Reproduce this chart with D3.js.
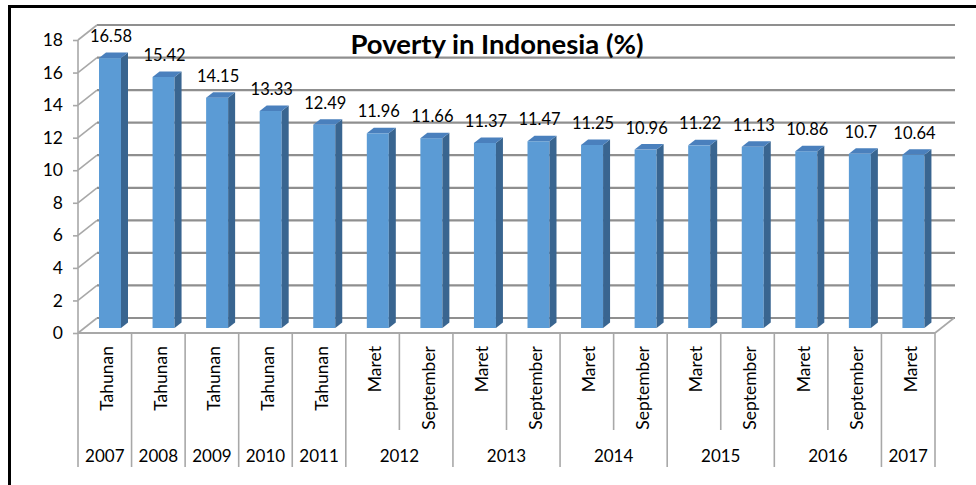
<!DOCTYPE html>
<html>
<head>
<meta charset="utf-8">
<script src="https://cdn.jsdelivr.net/npm/d3@7/dist/d3.min.js"></script>
<style>
  html, body { margin: 0; padding: 0; background: #fff; }
  svg { display: block; }
  text { font-family: Lato, "Liberation Sans", sans-serif; fill: #000; }
</style>
</head>
<body>
<svg id="chart" width="976" height="485"></svg>
<script>
// ---- data ----
const periods = ["Tahunan","Tahunan","Tahunan","Tahunan","Tahunan",
                 "Maret","September","Maret","September","Maret","September",
                 "Maret","September","Maret","September","Maret"];
const years   = ["2007","2008","2009","2010","2011",
                 "2012","2012","2013","2013","2014","2014",
                 "2015","2015","2016","2016","2017"];
const values  = [16.58,15.42,14.15,13.33,12.49,11.96,11.66,11.37,11.47,11.25,10.96,11.22,11.13,10.86,10.7,10.64];
const yTicks  = [0,2,4,6,8,10,12,14,16,18];
const title   = "Poverty in Indonesia (%)";

// ---- layout ----
const svg = d3.select("#chart");
const x0 = 78, x1 = 935;           // front floor edge
const yBase = 333, yTop = 40;      // front plane 0 and 18
const depth = {dx: 19, dy: -15};   // back-wall offset
const idx = d3.range(values.length);

const x = d3.scaleBand().domain(idx).range([x0, x1]).paddingInner(0).paddingOuter(0);
const y = d3.scaleLinear().domain([0, 18]).range([yBase, yTop]);

const gridColor = "#8f8f8f";
const axisColor = "#a8a8a8";

// outer border
svg.append("rect").attr("x", 9.5).attr("y", 6.5).attr("width", 1000).attr("height", 500)
  .attr("fill", "none").attr("stroke", "#000").attr("stroke-width", 3);

// back wall gridlines + left wall diagonals
const grid = svg.append("g");
yTicks.forEach(t => {
  const yf = y(t), yb = y(t) + depth.dy;
  grid.append("line").attr("x1", x0 + depth.dx).attr("x2", x1 + depth.dx + 1)
    .attr("y1", yb).attr("y2", yb).attr("stroke", gridColor).attr("stroke-width", 2.2);
  grid.append("line").attr("x1", x0).attr("y1", yf).attr("x2", x0 + depth.dx).attr("y2", yb)
    .attr("stroke", axisColor).attr("stroke-width", 1.6);
});
// floor right diagonal
grid.append("line").attr("x1", x1).attr("y1", yBase).attr("x2", x1 + depth.dx).attr("y2", yBase + depth.dy)
  .attr("stroke", axisColor).attr("stroke-width", 1.6);

// y axis (front)
const yAxis = d3.axisLeft(y).tickValues(yTicks).tickSize(5).tickPadding(10).tickFormat(d3.format("d"));
const gy = svg.append("g").attr("transform", `translate(${x0},0)`).call(yAxis);
gy.select(".domain").remove();
gy.selectAll(".tick line").attr("stroke", axisColor).attr("stroke-width", 1.6);
gy.selectAll(".tick text").attr("font-size", 17.5).attr("font-family", "Lato, sans-serif").attr("fill", "#000");
svg.append("line").attr("x1", x0).attr("x2", x0).attr("y1", y(18)).attr("y2", 467)
  .attr("stroke", axisColor).attr("stroke-width", 1.6);
// front floor edge
svg.append("line").attr("x1", x0).attr("x2", x1).attr("y1", yBase).attr("y2", yBase)
  .attr("stroke", axisColor).attr("stroke-width", 2);

// bars
const bw = 22, faceOff = 21, lift = 5, side = {dx: 7, dy: -5.5};
const bars = svg.append("g");
idx.forEach(i => {
  const v = values[i];
  const bx = x(i) + faceOff;
  const top = y(v) - lift, bot = yBase - lift;
  bars.append("rect").attr("x", bx).attr("y", top).attr("width", bw).attr("height", bot - top)
    .attr("fill", "#5b9bd5");
  const sp = d3.path();
  sp.moveTo(bx + bw, top); sp.lineTo(bx + bw + side.dx, top + side.dy);
  sp.lineTo(bx + bw + side.dx, bot + side.dy); sp.lineTo(bx + bw, bot); sp.closePath();
  bars.append("path").attr("d", sp.toString()).attr("fill", "#396590");
  const tp = d3.path();
  tp.moveTo(bx, top); tp.lineTo(bx + side.dx, top + side.dy);
  tp.lineTo(bx + bw + side.dx, top + side.dy); tp.lineTo(bx + bw, top); tp.closePath();
  bars.append("path").attr("d", tp.toString()).attr("fill", "#4a80bd");
  svg.append("text").attr("x", bx + bw / 2 + 1).attr("y", top - 16)
    .attr("text-anchor", "middle").attr("font-size", 16.5).text(String(v));
});

// x axis: period separators and labels
const sep = svg.append("g");
idx.forEach(i => {
  if (i === 0) return;
  const isYear = years[i] !== years[i - 1];
  sep.append("line").attr("x1", x(i)).attr("x2", x(i)).attr("y1", yBase).attr("y2", isYear ? 467 : 430)
    .attr("stroke", axisColor).attr("stroke-width", 1.6);
});
sep.append("line").attr("x1", x1).attr("x2", x1).attr("y1", yBase).attr("y2", 467)
  .attr("stroke", axisColor).attr("stroke-width", 1.6);

idx.forEach(i => {
  const cx = x(i) + x.bandwidth() / 2 + 2;
  svg.append("text").attr("transform", `translate(${cx},346) rotate(-90)`)
    .attr("text-anchor", "end").attr("dominant-baseline", "central")
    .attr("font-size", 17.5).text(periods[i]);
});

// year labels
const yearGroups = d3.groups(idx, i => years[i]);
yearGroups.forEach(([yr, arr]) => {
  const a = x(arr[0]), b = x(arr[arr.length - 1]) + x.bandwidth();
  svg.append("text").attr("x", (a + b) / 2).attr("y", 462).attr("text-anchor", "middle")
    .attr("font-size", 17).text(yr);
});

// title
svg.append("text").attr("x", 497).attr("y", 54).attr("text-anchor", "middle")
  .attr("font-size", 27.5).attr("font-weight", "bold").text(title);
</script>
</body>
</html>
